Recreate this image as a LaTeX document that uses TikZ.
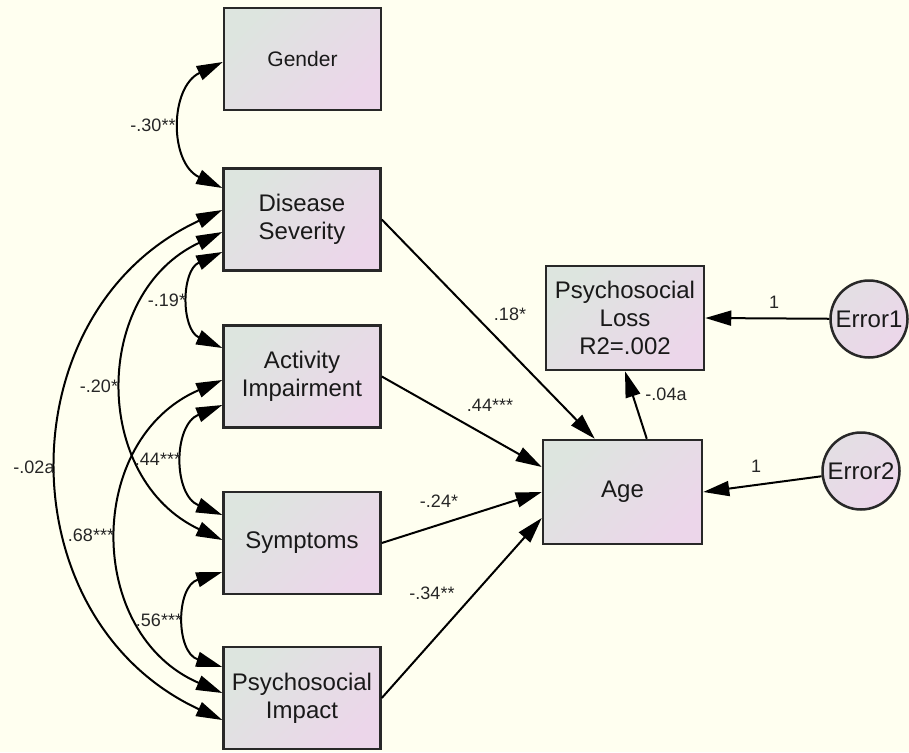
\documentclass[tikz,border=0pt]{standalone}
\usepackage{fontspec}
\setmainfont{Liberation Sans}
\usetikzlibrary{arrows.meta,shapes.geometric}
\definecolor{bg}{RGB}{255,255,240}
\definecolor{gA}{RGB}{221,229,223}
\definecolor{gB}{RGB}{236,214,234}
\definecolor{edgegray}{RGB}{40,40,40}
\begin{document}
\begin{tikzpicture}[x=1pt,y=1pt,
  box/.style={draw=edgegray, line width=2.5pt, left color=gA, right color=gB, shading angle=45,
    minimum width=157pt, minimum height=102pt, inner sep=0pt, align=center,
    font=\fontsize{24}{28}\selectfont, text=black!90},
  err/.style={circle, draw=edgegray, line width=2.5pt, left color=gA!60!gB, right color=gB, shading angle=45,
    minimum size=77pt, inner sep=0pt, font=\fontsize{24}{28}\selectfont, text=black!90},
  lab/.style={font=\fontsize{18}{21}\selectfont, inner sep=0pt, text=black!85},
  causal/.style={line width=2pt, -{Triangle[length=26pt,width=15pt]}},
  cov/.style={line width=2pt, {Triangle[length=26pt,width=15pt]}-{Triangle[length=26pt,width=15pt]}}
]
\fill[bg] (0,0) rectangle (909,-752);
\useasboundingbox (0,0) rectangle (909,-752);

% boxes
\node[box, font=\fontsize{21}{25}\selectfont] (G) at (302.5,-59) {Gender};
\node[box] (DS) at (302,-219.5) {Disease\\Severity};
\node[box] (AI) at (302,-376.5) {Activity\\Impairment};
\node[box] (SY) at (302,-543) {Symptoms};
\node[box] (PI) at (302,-698) {Psychosocial\\Impact};
\node[box, minimum width=158pt, minimum height=104pt] (PL) at (625,-318) {Psychosocial\\Loss\\R2=.002};
\node[box, minimum width=159pt, minimum height=104pt] (AG) at (622.5,-492) {Age};
\node[err] (E1) at (869,-319) {Error1};
\node[err] (E2) at (861,-471) {Error2};

% regression paths
\draw[causal] (DS.east) -- ([xshift=53pt]AG.north west);
\draw[causal] (AI.east) -- ([yshift=25pt]AG.west);
\draw[causal] (SY.east) -- (AG.west);
\draw[causal] (PI.east) -- ([yshift=-26pt]AG.west);
\draw[causal] ([xshift=105pt]AG.north west) -- (PL.south);
\draw[causal] (E1) -- (PL.east);
\draw[causal] (E2) -- (AG.east);

% covariances
\draw[cov] ([yshift=-3pt]G.west) .. controls +(-53.3,-25.1) and +(-53.3,25.1) .. ([yshift=31.5pt]DS.west);
\draw[cov] ([yshift=-32.5pt]DS.west) .. controls +(-41.3,-18.65) and +(-41.3,18.65) .. ([yshift=28.5pt]AI.west);
\draw[cov] ([yshift=-28.5pt]AI.west) .. controls +(-49.3,-20.1) and +(-49.3,20.1) .. ([yshift=28pt]SY.west);
\draw[cov] ([yshift=-29pt]SY.west) .. controls +(-46.7,-14.5) and +(-46.7,14.5) .. ([yshift=31pt]PI.west);
\draw[cov] ([yshift=-12.5pt]DS.west) .. controls +(-130.7,-61.1) and +(-130.7,61.1) .. ([yshift=3pt]SY.west);
\draw[cov] ([yshift=-3.5pt]AI.west) .. controls +(-137.3,-59.1) and +(-137.3,59.1) .. ([yshift=5pt]PI.west);
\draw[cov] ([yshift=9.5pt]DS.west) .. controls +(-217.3,-100.5) and +(-217.3,100.5) .. ([yshift=-22pt]PI.west);

% labels
\node[lab] (l1) at (510,-314) {.18*};
\node[lab] (l2) at (490,-405) {.44***};
\node[lab] (l3) at (439,-501) {-.24*};
\node[lab] (l4) at (432,-593) {-.34**};
\node[lab] (l5) at (666,-394) {-.04a};
\node[lab] (l6) at (774,-302) {1};
\node[lab] (l7) at (756,-466) {1};
\node[lab] (l8) at (153,-125) {-.30**};
\node[lab] (l9) at (167,-300) {-.19*};
\node[lab] (l10) at (99,-386) {-.20*};
\node[lab] (l11) at (34,-467) {-.02a};
\node[lab] (l12) at (158,-459) {.44***};
\node[lab] (l13) at (91,-535) {.68***};
\node[lab] (l14) at (159,-620) {.56***};
\end{tikzpicture}
\end{document}
